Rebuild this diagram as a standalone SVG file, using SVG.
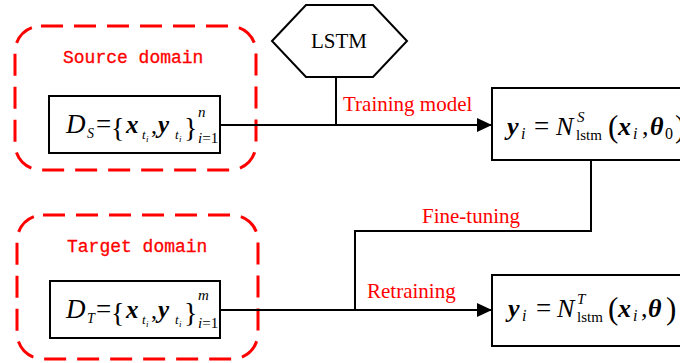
<svg xmlns="http://www.w3.org/2000/svg" width="680" height="363" viewBox="0 0 680 363">
<style>
.dom{fill:none;stroke:#ff0000;stroke-width:3;stroke-dasharray:22 11}
.box{fill:#fff;stroke:#000;stroke-width:2}
.ln{fill:none;stroke:#000;stroke-width:2}
.mono{font-family:"Liberation Mono",monospace;font-size:18px;fill:#ff0000;stroke:#ff0000;stroke-width:0.3}
.lbl{font-family:"Liberation Serif",serif;font-size:21px;fill:#ff0000}
.m{font-family:"Liberation Serif",serif;fill:#000}
.bi{font-weight:bold;font-style:italic}
.it{font-style:italic}
</style>
<defs>
<marker id="arr" markerWidth="16" markerHeight="16" refX="15" refY="7" orient="auto" markerUnits="userSpaceOnUse">
<path d="M0,0 L15,7 L0,14 Z" fill="#000"/>
</marker>
</defs>

<g id="source-domain">
<rect class="dom" x="15" y="26" width="241" height="144" rx="26" ry="26"/>
<text class="mono" x="63" y="63">Source domain</text>
</g>
<g id="source-data">
<rect class="box" x="49" y="96" width="171" height="57"/>
<text class="m it" x="66" y="133" font-size="27">D</text>
<text class="m it" x="87" y="138" font-size="14">S</text>
<text class="m" x="96" y="133" font-size="27">=</text>
<text class="m" x="111" y="137" font-size="28">{</text>
<text class="m bi" x="126" y="133" font-size="25">x</text>
<text class="m it" x="142" y="139" font-size="13">t</text>
<text class="m it" x="146" y="142" font-size="9">i</text>
<text class="m" x="151" y="133" font-size="24">,</text>
<text class="m bi" x="158" y="133" font-size="25">y</text>
<text class="m it" x="175" y="139" font-size="13">t</text>
<text class="m it" x="179" y="142" font-size="9">i</text>
<text class="m" x="184" y="137" font-size="28">}</text>
<text class="m it" x="198" y="117" font-size="15">n</text>
<text class="m" x="198" y="143" font-size="15"><tspan class="it">i</tspan>=1</text>
</g>

<g id="target-domain">
<rect class="dom" x="17" y="215" width="241" height="144" rx="26" ry="26"/>
<text class="mono" x="67" y="252">Target domain</text>
</g>
<g id="target-data">
<rect class="box" x="50" y="281" width="170" height="57"/>
<text class="m it" x="66" y="318" font-size="27">D</text>
<text class="m it" x="87" y="323" font-size="14">T</text>
<text class="m" x="96" y="318" font-size="27">=</text>
<text class="m" x="111" y="322" font-size="28">{</text>
<text class="m bi" x="126" y="318" font-size="25">x</text>
<text class="m it" x="142" y="324" font-size="13">t</text>
<text class="m it" x="146" y="327" font-size="9">i</text>
<text class="m" x="151" y="318" font-size="24">,</text>
<text class="m bi" x="158" y="318" font-size="25">y</text>
<text class="m it" x="175" y="324" font-size="13">t</text>
<text class="m it" x="179" y="327" font-size="9">i</text>
<text class="m" x="184" y="322" font-size="28">}</text>
<text class="m it" x="198" y="300" font-size="15">m</text>
<text class="m" x="198" y="328" font-size="15"><tspan class="it">i</tspan>=1</text>
</g>

<g id="lstm">
<polygon class="box" points="272,41 306,5 373,5 407,41 373,77 306,77"/>
<text class="m" x="339" y="48" font-size="21" text-anchor="middle">LSTM</text>
</g>

<g id="source-model">
<rect class="box" x="492" y="88" width="200" height="72"/>
<text class="m bi" x="507" y="135" font-size="26">y</text>
<text class="m it" x="521" y="139" font-size="16">i</text>
<text class="m" x="534" y="135" font-size="27">=</text>
<text class="m it" x="556" y="135" font-size="26">N</text>
<text class="m it" x="577" y="122" font-size="15">S</text>
<text class="m" x="576" y="140" font-size="15">lstm</text>
<text class="m" x="608" y="137" font-size="31">(</text>
<text class="m bi" x="618" y="135" font-size="26">x</text>
<text class="m it" x="633" y="139" font-size="16">i</text>
<text class="m" x="642" y="135" font-size="26">,</text>
<text class="m bi" x="650" y="135" font-size="26">θ</text>
<text class="m" x="665" y="139" font-size="16">0</text>
<text class="m" x="675" y="137" font-size="31">)</text>
</g>

<g id="target-model">
<rect class="box" x="492" y="275" width="200" height="71"/>
<text class="m bi" x="508" y="317" font-size="26">y</text>
<text class="m it" x="522" y="321" font-size="16">i</text>
<text class="m" x="536" y="317" font-size="27">=</text>
<text class="m it" x="557" y="317" font-size="26">N</text>
<text class="m it" x="577" y="304" font-size="15">T</text>
<text class="m" x="577" y="322" font-size="15">lstm</text>
<text class="m" x="608" y="319" font-size="31">(</text>
<text class="m bi" x="618" y="317" font-size="26">x</text>
<text class="m it" x="633" y="321" font-size="16">i</text>
<text class="m" x="641" y="317" font-size="26">,</text>
<text class="m bi" x="648" y="317" font-size="26">θ</text>
<text class="m" x="666" y="319" font-size="31">)</text>
</g>

<g id="connectors">
<line class="ln" x1="220" y1="125" x2="492" y2="125" marker-end="url(#arr)"/>
<line class="ln" x1="336" y1="77" x2="336" y2="125"/>
<polyline class="ln" points="591,160 591,231 355,231 355,310"/>
<line class="ln" x1="220" y1="310" x2="492" y2="310" marker-end="url(#arr)"/>
<text class="lbl" x="343" y="111">Training model</text>
<text class="lbl" x="422" y="223">Fine-tuning</text>
<text class="lbl" x="367" y="298">Retraining</text>
</g>
</svg>
